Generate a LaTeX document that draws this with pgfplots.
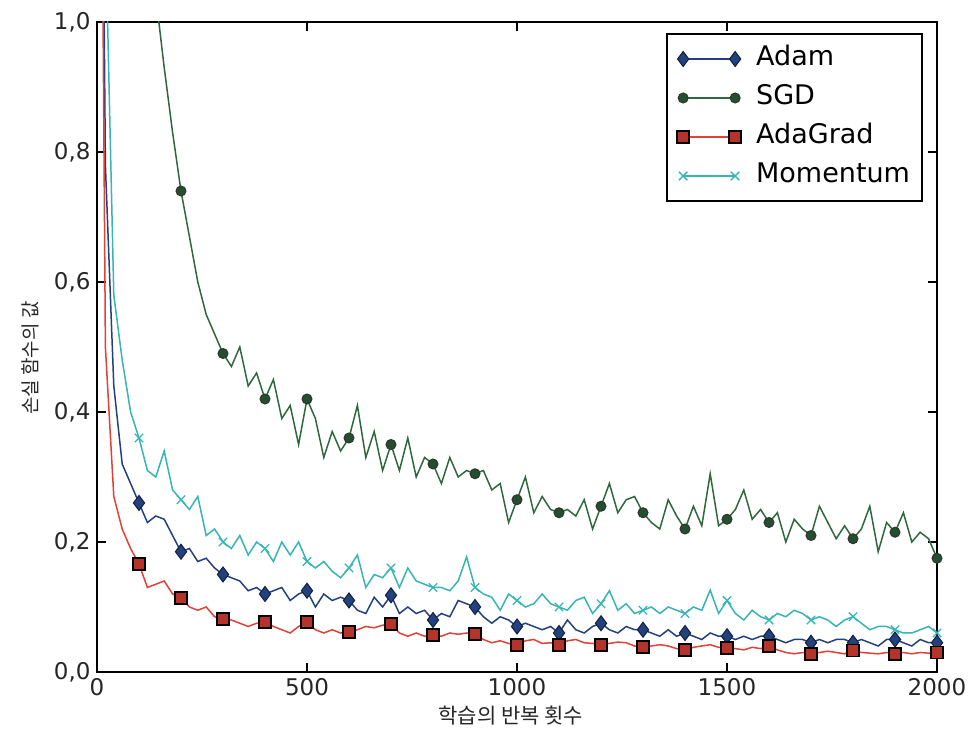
\documentclass[border=0pt]{standalone}
\usepackage{fontspec}
\setmainfont{DejaVu Sans}
\newfontfamily\kr{Noto Sans CJK KR}
\usepackage{pgfplots}
\usepackage{pgfplotstable}
\pgfplotsset{compat=1.18}
\definecolor{cAdam}{RGB}{35,65,125}
\definecolor{cSGD}{RGB}{45,105,60}
\definecolor{cAda}{RGB}{225,65,55}
\definecolor{cMom}{RGB}{55,180,180}
\pgfplotstableread{
it adam sgd ada mom
0 2.30 2.30 2.30 2.30
20 0.78 2.05 0.50 1.15
40 0.44 1.80 0.27 0.58
60 0.32 1.62 0.22 0.48
80 0.29 1.46 0.19 0.40
100 0.26 1.32 0.166 0.36
120 0.23 1.18 0.13 0.31
140 0.24 1.04 0.135 0.30
160 0.235 0.93 0.14 0.34
180 0.21 0.83 0.12 0.28
200 0.185 0.74 0.114 0.265
220 0.19 0.67 0.10 0.25
240 0.17 0.60 0.095 0.27
260 0.175 0.55 0.10 0.21
280 0.16 0.52 0.085 0.22
300 0.15 0.49 0.082 0.20
320 0.145 0.47 0.08 0.19
340 0.14 0.50 0.075 0.21
360 0.125 0.44 0.07 0.18
380 0.13 0.46 0.075 0.20
400 0.12 0.42 0.077 0.19
420 0.125 0.45 0.07 0.17
440 0.13 0.39 0.065 0.20
460 0.11 0.41 0.06 0.18
480 0.12 0.35 0.07 0.20
500 0.125 0.42 0.077 0.17
520 0.10 0.39 0.065 0.16
540 0.12 0.33 0.06 0.17
560 0.11 0.37 0.065 0.155
580 0.115 0.34 0.06 0.145
600 0.11 0.36 0.062 0.16
620 0.095 0.41 0.065 0.18
640 0.09 0.33 0.07 0.13
660 0.115 0.37 0.068 0.15
680 0.10 0.31 0.072 0.145
700 0.118 0.35 0.074 0.16
720 0.09 0.31 0.06 0.13
740 0.10 0.36 0.055 0.16
760 0.09 0.30 0.06 0.14
780 0.095 0.33 0.055 0.135
800 0.08 0.32 0.057 0.13
820 0.09 0.29 0.055 0.13
840 0.085 0.33 0.06 0.125
860 0.11 0.30 0.058 0.14
880 0.105 0.31 0.06 0.177
900 0.10 0.305 0.058 0.13
920 0.085 0.31 0.05 0.12
940 0.075 0.28 0.045 0.115
960 0.085 0.29 0.048 0.095
980 0.08 0.23 0.044 0.12
1000 0.07 0.265 0.042 0.11
1020 0.075 0.30 0.048 0.10
1040 0.07 0.245 0.05 0.105
1060 0.065 0.27 0.044 0.12
1080 0.07 0.25 0.045 0.105
1100 0.06 0.245 0.042 0.10
1120 0.08 0.25 0.048 0.095
1140 0.065 0.24 0.05 0.11
1160 0.06 0.265 0.045 0.115
1180 0.07 0.22 0.044 0.09
1200 0.075 0.255 0.042 0.105
1220 0.065 0.29 0.044 0.125
1240 0.06 0.245 0.046 0.095
1260 0.07 0.265 0.045 0.105
1280 0.065 0.27 0.04 0.09
1300 0.065 0.245 0.038 0.095
1320 0.06 0.23 0.04 0.10
1340 0.055 0.22 0.042 0.09
1360 0.065 0.265 0.04 0.10
1380 0.055 0.24 0.036 0.095
1400 0.06 0.22 0.034 0.09
1420 0.055 0.255 0.038 0.10
1440 0.05 0.225 0.04 0.095
1460 0.06 0.305 0.042 0.126
1480 0.055 0.225 0.038 0.09
1500 0.055 0.235 0.037 0.11
1520 0.05 0.25 0.036 0.09
1540 0.055 0.28 0.034 0.08
1560 0.05 0.235 0.038 0.095
1580 0.055 0.25 0.036 0.085
1600 0.055 0.23 0.04 0.08
1620 0.05 0.245 0.034 0.09
1640 0.045 0.20 0.03 0.085
1660 0.05 0.235 0.028 0.095
1680 0.05 0.22 0.03 0.09
1700 0.045 0.21 0.028 0.08
1720 0.05 0.255 0.03 0.085
1740 0.045 0.23 0.032 0.08
1760 0.05 0.205 0.03 0.07
1780 0.05 0.225 0.028 0.08
1800 0.045 0.205 0.033 0.085
1820 0.05 0.22 0.03 0.075
1840 0.045 0.255 0.029 0.065
1860 0.04 0.185 0.028 0.07
1880 0.05 0.23 0.03 0.07
1900 0.05 0.215 0.028 0.065
1920 0.045 0.245 0.03 0.06
1940 0.04 0.20 0.028 0.06
1960 0.05 0.215 0.03 0.065
1980 0.045 0.205 0.029 0.07
2000 0.045 0.175 0.03 0.06
}\losstable
\begin{document}
\begin{tikzpicture}
\useasboundingbox (-97pt,-58pt) rectangle (872pt,672pt);
\begin{axis}[
  at={(0pt,0pt)}, anchor=south west,
  width=840pt, height=650pt, scale only axis,
  xmin=0, xmax=2000, ymin=0, ymax=1,
  xtick={0,500,1000,1500,2000},
  ytick={0,0.2,0.4,0.6,0.8,1.0},
  xtick pos=both, ytick pos=both,
  xticklabel pos=lower, yticklabel pos=left,
  tick align=inside,
  major tick length=9pt,
  tick style={black, line width=1.6pt},
  axis line style={line width=2.6pt},
  /pgf/number format/assume math mode=true,
  ticklabel style={font=\fontsize{23}{26}\selectfont, text=black!85},
  yticklabel style={xshift=-3pt, /pgf/number format/.cd, fixed, fixed zerofill, precision=1, use comma},
  xticklabel style={yshift=-3pt, /pgf/number format/.cd, fixed, precision=0, set thousands separator={}},
  xlabel={\kr 학습의 반복 횟수},
  ylabel={\kr 손실 함수의 값},
  xlabel style={font=\fontsize{21}{24}\selectfont, text=black!85, at={(axis description cs:0.5,0)}, anchor=center, yshift=-44pt, xshift=-6pt},
  ylabel style={font=\fontsize{19}{22}\selectfont, text=black!85, at={(axis description cs:0,0.483)}, anchor=center, yshift=67pt},
  legend style={at={(1,1)}, anchor=north east, xshift=-14pt, yshift=-11pt,
    draw=black, line width=2pt, font=\fontsize{27}{31}\selectfont,
    inner xsep=10pt, inner ysep=10pt, row sep=9pt,
    nodes={text height=20pt, text depth=6pt, inner sep=2pt},
    /tikz/every odd column/.append style={column sep=13pt}},
  legend cell align=left,
  legend image code/.code={\draw[#1, mark repeat=1, mark phase=1] plot coordinates {(0pt,0pt) (52pt,0pt)};},
]
\addplot[color=cAdam, line width=1.5pt, mark=diamond*, mark size=7.5pt, mark repeat=5, mark phase=5,
  mark options={fill=cAdam, draw=cAdam!50!black, line width=1pt}] table[x=it, y=adam] {\losstable};
\addlegendentry{Adam}
\addplot[color=cSGD, line width=1.5pt, mark=*, mark size=5pt, mark repeat=5, mark phase=3,
  mark options={fill=cSGD!75!black, draw=black!80, line width=1pt}] table[x=it, y=sgd] {\losstable};
\addlegendentry{SGD}
\addplot[color=cAda, line width=1.5pt, mark=square*, mark size=6pt, mark repeat=5, mark phase=5,
  mark options={fill=cAda!80!black, draw=black, line width=1.8pt}] table[x=it, y=ada] {\losstable};
\addlegendentry{AdaGrad}
\addplot[color=cMom, line width=1.5pt, mark=x, mark size=6pt, mark repeat=5, mark phase=4,
  mark options={draw=cMom, line width=1.4pt}] table[x=it, y=mom] {\losstable};
\addlegendentry{Momentum}
\end{axis}
\end{tikzpicture}
\end{document}
